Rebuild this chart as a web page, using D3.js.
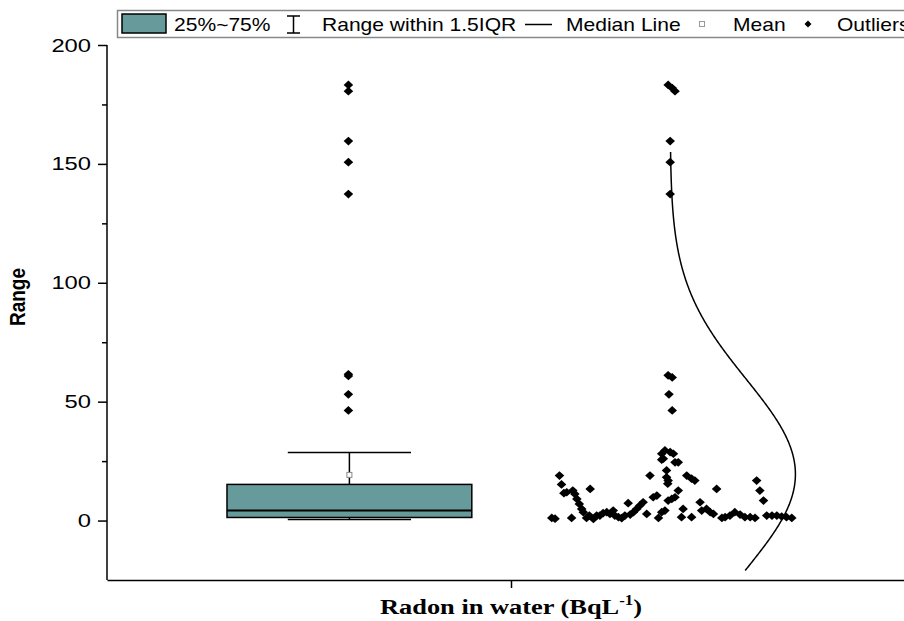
<!DOCTYPE html>
<html>
<head>
<meta charset="utf-8">
<script src="https://cdn.jsdelivr.net/npm/d3@7"></script>
<style>
  body { margin: 0; background: #fff; }
  svg { display: block; }
</style>
</head>
<body>
<script>
// ---- data ----
const category = ["Radon in water"];
const yTicks = [0, 50, 100, 150, 200];
const yMinor = [25, 75, 125, 175];

// box statistics
const boxStats = { min: 0.4, q1: 1.3, median: 4.2, q3: 15.2, whiskerHigh: 28.6, mean: 19.2 };
const outliers = [183.2, 180.6, 159.6, 150.7, 137.3, 61.5, 60.8, 53.1, 46.3];

// normal curve parameters (Origin's fitted curve beside the points)
const normMean = 19.5, normSD = 40, normFrom = -21, normTo = 155;

// jittered data points: [x position on category axis, value]
const points = [
  [1.101, 1.1], [1.109, 0.8], [1.120, 18.9], [1.125, 15.2], [1.131, 11.5], [1.138, 11.9],
  [1.153, 12.6], [1.150, 1.1], [1.158, 11.2], [1.163, 9.1], [1.169, 7.0], [1.175, 4.9],
  [1.179, 3.5], [1.187, 1.1], [1.196, 13.3], [1.194, 2.1], [1.204, 0.7], [1.212, 2.1],
  [1.220, 2.1], [1.228, 3.1], [1.237, 3.5], [1.245, 2.8], [1.253, 4.2], [1.257, 2.1],
  [1.266, 1.4], [1.274, 1.0], [1.282, 2.1], [1.290, 7.3], [1.295, 2.5], [1.303, 3.5],
  [1.311, 4.9], [1.319, 6.3], [1.327, 7.7], [1.336, 2.8], [1.344, 18.9], [1.352, 9.8],
  [1.361, 10.5], [1.365, 1.1], [1.373, 28.1], [1.373, 25.6], [1.381, 29.5], [1.385, 21.1],
  [1.385, 18.2], [1.388, 15.5], [1.381, 4.2], [1.389, 8.4],
  [1.377, 26.0], [1.394, 28.8], [1.402, 28.1], [1.406, 24.5], [1.414, 24.5], [1.389, 16.8],
  [1.414, 12.6], [1.398, 9.1], [1.406, 9.8], [1.435, 18.9], [1.447, 17.6], [1.455, 16.8],
  [1.373, 3.5], [1.426, 4.9], [1.422, 1.4], [1.447, 1.4], [1.468, 7.7], [1.472, 4.2],
  [1.484, 4.9], [1.493, 3.5], [1.501, 2.8], [1.509, 13.3], [1.522, 1.1], [1.530, 1.4],
  [1.542, 2.1], [1.554, 3.5], [1.567, 2.5], [1.579, 1.4], [1.592, 1.4], [1.604, 1.1],
  [1.608, 16.8], [1.616, 12.6], [1.625, 8.4], [1.633, 2.1], [1.646, 2.1], [1.658, 2.1],
  [1.670, 1.7], [1.682, 1.4], [1.695, 1.1],
  [1.389, 183.2], [1.399, 181.9], [1.406, 180.6], [1.394, 159.6], [1.394, 150.7],
  [1.394, 137.3], [1.389, 61.1], [1.399, 60.2], [1.391, 53.1], [1.399, 46.3]
];

// ---- layout ----
const W = 904, H = 621;
const plotLeft = 107, plotRight = 915, plotTop = 45, plotBottom = 580;
const boxCenter = 0.6, boxWidth = 0.606, capWidth = 0.305;
const curveBase = 1.394, curvePeak = 0.31;
const boxColor = "#679a9a";
const stretch = 1.17;   // the source picture is a little wider than tall
const sans = "Liberation Sans, Arial, sans-serif";

const svg = d3.select("body").append("svg")
  .attr("width", W).attr("height", H);

const x = d3.scaleLinear().domain([0, 2]).range([plotLeft, plotRight]);
const y = d3.scaleLinear().domain([-25, 200]).range([plotBottom, plotTop]);

// y axis
const yAxis = svg.append("g")
  .attr("transform", `translate(${plotLeft},0)`)
  .call(d3.axisLeft(y).tickValues(yTicks).tickSize(9).tickPadding(7).tickSizeOuter(0));
yAxis.select(".domain").attr("stroke-width", 1.5).attr("d", `M0,${plotTop}V${plotBottom}`);
yAxis.selectAll(".tick line").attr("stroke-width", 1.5);
yAxis.selectAll(".tick text")
  .attr("font-family", sans)
  .attr("font-size", 19).attr("fill", "#000")
  .attr("x", null)
  .attr("transform", `translate(-16,0) scale(${stretch + 0.08},1)`);
svg.append("g")
  .attr("transform", `translate(${plotLeft},0)`)
  .call(d3.axisLeft(y).tickValues(yMinor).tickSize(5).tickFormat(""))
  .call(g => g.select(".domain").remove())
  .selectAll("line").attr("stroke-width", 1.5);

// x axis
const xAxis = svg.append("g")
  .attr("transform", `translate(0,${plotBottom})`)
  .call(d3.axisBottom(x).tickValues([1]).tickSize(8).tickFormat("").tickSizeOuter(0));
xAxis.select(".domain").attr("stroke-width", 1.5);
xAxis.selectAll(".tick line").attr("stroke-width", 1.5);

// axis titles
svg.append("text")
  .attr("transform", `translate(25,297) rotate(-90) scale(1,${stretch})`)
  .attr("text-anchor", "middle")
  .attr("font-family", sans)
  .attr("font-weight", "bold").attr("font-size", 19)
  .text("Range");

const xt = svg.append("text")
  .attr("transform", `translate(${x(1)},614) scale(${stretch + 0.03},1)`)
  .attr("text-anchor", "middle")
  .attr("font-family", "Liberation Serif, Times New Roman, serif")
  .attr("font-weight", "bold").attr("font-size", 22);
xt.append("tspan").text(category[0] + " (BqL");
xt.append("tspan").attr("font-size", 14).attr("dy", -9).text("-1");
xt.append("tspan").attr("dy", 9).text(")");

// box
const bx0 = x(boxCenter - boxWidth / 2), bx1 = x(boxCenter + boxWidth / 2);
const cx0 = x(boxCenter - capWidth / 2), cx1 = x(boxCenter + capWidth / 2);
const bc = x(boxCenter);
svg.append("line").attr("x1", bc).attr("x2", bc)
  .attr("y1", y(boxStats.q3)).attr("y2", y(boxStats.whiskerHigh))
  .attr("stroke", "#000").attr("stroke-width", 1.5);
svg.append("line").attr("x1", bc).attr("x2", bc)
  .attr("y1", y(boxStats.q1)).attr("y2", y(boxStats.min))
  .attr("stroke", "#000").attr("stroke-width", 1.5);
[boxStats.whiskerHigh, boxStats.min].forEach(v => {
  svg.append("line").attr("x1", cx0).attr("x2", cx1)
    .attr("y1", y(v)).attr("y2", y(v))
    .attr("stroke", "#000").attr("stroke-width", 1.5);
});
svg.append("rect")
  .attr("x", bx0).attr("y", y(boxStats.q3))
  .attr("width", bx1 - bx0).attr("height", y(boxStats.q1) - y(boxStats.q3))
  .attr("fill", boxColor).attr("stroke", "#000").attr("stroke-width", 1.5);
svg.append("line").attr("x1", bx0).attr("x2", bx1)
  .attr("y1", y(boxStats.median)).attr("y2", y(boxStats.median))
  .attr("stroke", "#000").attr("stroke-width", 2);
svg.append("rect")
  .attr("x", bc - 2.5).attr("y", y(boxStats.mean) - 2.5)
  .attr("width", 5).attr("height", 5)
  .attr("fill", "#fff").attr("stroke", "#888").attr("stroke-width", 1);

const diamond = d3.symbol().type(d3.symbolSquare).size(38);

// outliers above the box
svg.append("g").selectAll("path")
  .data(outliers).join("path")
  .attr("d", diamond)
  .attr("transform", d => `translate(${bc - 1},${y(d)}) scale(1.1,1) rotate(45)`)
  .attr("fill", "#000");

// normal curve
const curveVals = d3.range(normFrom, normTo + 0.01, 0.5);
const dens = v => Math.exp(-((v - normMean) ** 2) / (2 * normSD * normSD));
svg.append("path")
  .datum(curveVals)
  .attr("fill", "none").attr("stroke", "#000").attr("stroke-width", 1.5)
  .attr("d", d3.line()
    .x(v => x(curveBase + curvePeak * dens(v)))
    .y(v => y(v)));

// data points
svg.append("g").selectAll("path")
  .data(points).join("path")
  .attr("d", diamond)
  .attr("transform", d => `translate(${x(d[0])},${y(d[1])}) scale(1.1,1) rotate(45)`)
  .attr("fill", "#000");

// legend
const lg = svg.append("g");
lg.append("rect").attr("x", 117.5).attr("y", 10.5).attr("width", 820).attr("height", 27)
  .attr("fill", "#fff").attr("stroke", "#888").attr("stroke-width", 1.5);
lg.append("rect").attr("x", 122).attr("y", 14).attr("width", 44).attr("height", 19)
  .attr("fill", boxColor).attr("stroke", "#000").attr("stroke-width", 1.5);
const lgText = (tx, s) => lg.append("text")
  .attr("transform", `translate(${tx},31) scale(${stretch},1)`)
  .attr("font-family", sans)
  .attr("font-size", 18).attr("fill", "#000").text(s);
lgText(174, "25%~75%");
lg.append("path").attr("d", "M287,16H300M293.5,16V33M287,33H300")
  .attr("stroke", "#000").attr("stroke-width", 1.5).attr("fill", "none");
lgText(322, "Range within 1.5IQR");
lg.append("line").attr("x1", 525).attr("x2", 552).attr("y1", 24.5).attr("y2", 24.5)
  .attr("stroke", "#000").attr("stroke-width", 1.5);
lgText(566, "Median Line");
lg.append("rect").attr("x", 699.5).attr("y", 21.5).attr("width", 5).attr("height", 5)
  .attr("fill", "#fff").attr("stroke", "#999").attr("stroke-width", 1);
lgText(733, "Mean");
lg.append("path").attr("d", d3.symbol().type(d3.symbolSquare).size(24))
  .attr("transform", "translate(808,24) rotate(45)").attr("fill", "#000");
lgText(837, "Outliers");
</script>
</body>
</html>
